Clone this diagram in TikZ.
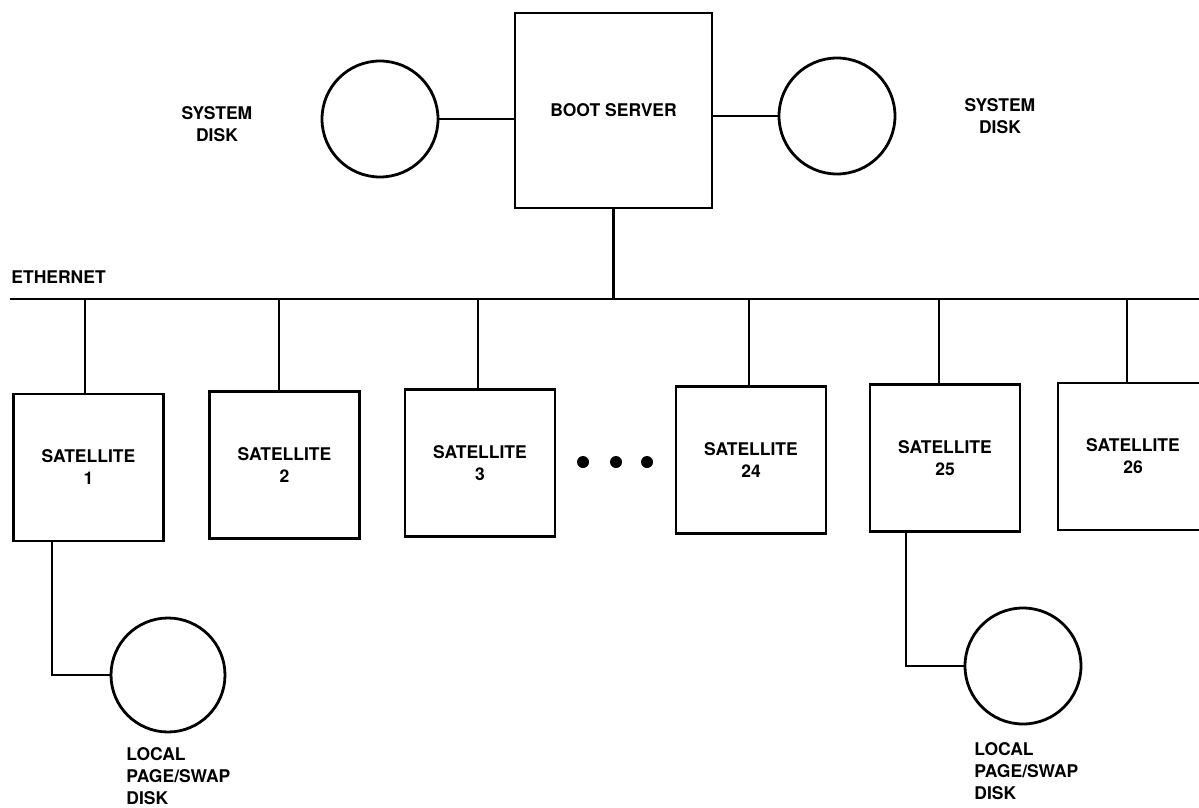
\documentclass[tikz,border=0pt]{standalone}
\usepackage{fontspec}
\setmainfont{TeX Gyre Heros}
\newcommand\diagfont{\fontsize{17.5}{22}\selectfont\bfseries}
\begin{document}
\begin{tikzpicture}[x=1pt,y=-1pt,line width=2.8pt,
  box/.style={draw,line width=2.8pt,inner sep=0pt,align=center,font=\diagfont},
  satbox/.style={box,minimum width=150pt,minimum height=147pt},
  disk/.style={draw,circle,line width=2.8pt,inner sep=0pt,minimum size=116pt},
  lbl/.style={inner sep=0pt,font=\diagfont},
  dot/.style={circle,fill,inner sep=0pt,minimum size=12pt}]
\useasboundingbox (0,0) rectangle (1199,808);
\clip (0,0) rectangle (1199,808);
% boot server and system disks
\node[box,minimum width=197pt,minimum height=195pt] (boot) at (613.5,110.5) {BOOT SERVER};
\node[disk] (sdl) at (380,119) {};
\node[disk] (sdr) at (837,116) {};
\draw (sdl.east) -- (sdl.east -| boot.west);
\draw (sdr.west) -- (sdr.west -| boot.east);
\node[lbl,anchor=north,align=center] (sdlt) at (217,105) {SYSTEM\\DISK};
\node[lbl,anchor=north,align=center] (sdrt) at (1000,97) {SYSTEM\\DISK};
% ethernet
\coordinate (ethL) at (10,299);
\coordinate (ethR) at (1199,299);
\draw (ethL) -- (ethR);
\node[lbl,anchor=north west] (etht) at (10,269) {ETHERNET};
\draw (boot.south) -- (boot.south |- ethL);
% satellites
\node[satbox] (s1) at (88.5,467.5) {SATELLITE\\1};
\node[satbox] (s2) at (284.5,465) {SATELLITE\\2};
\node[satbox] (s3) at (480,463) {SATELLITE\\3};
\node[satbox] (s24) at (751,460) {SATELLITE\\24};
\node[satbox] (s25) at (945,458) {SATELLITE\\25};
\node[satbox] (s26) at (1133,456.5) {SATELLITE\\26};
\coordinate (d1) at (85,299);
\coordinate (d2) at (279,299);
\coordinate (d3) at (478,299);
\coordinate (d24) at (749,299);
\coordinate (d25) at (939,299);
\coordinate (d26) at (1127,299);
\draw (d1) -- (d1 |- s1.north);
\draw (d2) -- (d2 |- s2.north);
\draw (d3) -- (d3 |- s3.north);
\draw (d24) -- (d24 |- s24.north);
\draw (d25) -- (d25 |- s25.north);
\draw (d26) -- (d26 |- s26.north);
% ellipsis dots
\node[dot] (dotA) at (583,462) {};
\node[dot] (dotB) at (616,462) {};
\node[dot] (dotC) at (647,462) {};
% local page/swap disks
\node[disk,minimum size=114pt] (ld1) at (168,675) {};
\node[disk] (ld25) at (1023,666) {};
\coordinate (k1) at (52,675);
\coordinate (k25) at (906,666);
\draw (k1 |- s1.south) -- (k1) -- (ld1.west);
\draw (k25 |- s25.south) -- (k25) -- (ld25.west);
\node[lbl,anchor=north west,align=left] (ld1t) at (125,746) {LOCAL\\PAGE/SWAP\\DISK};
\node[lbl,anchor=north west,align=left] (ld25t) at (973,741) {LOCAL\\PAGE/SWAP\\DISK};
\end{tikzpicture}
\end{document}
